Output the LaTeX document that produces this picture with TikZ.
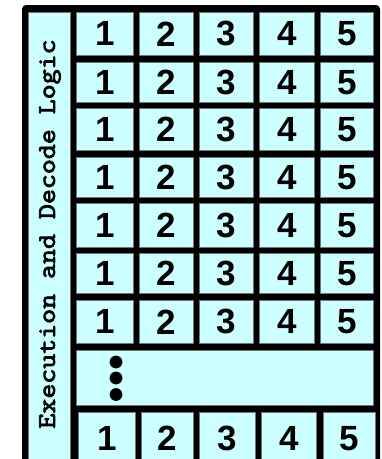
\documentclass[tikz,border=0pt]{standalone}
\usepackage{fontspec}
\setmainfont{Liberation Sans}
\newfontfamily\labelfont{Latin Modern Mono}[FakeBold=3]
\definecolor{cellcyan}{HTML}{CCFFFF}
\begin{document}
\begin{tikzpicture}[x=1pt,y=-1pt,
  cellbox/.style={fill=cellcyan, draw=black!55, line width=0.6pt, inner sep=0pt, anchor=north west},
  digit/.style={font=\fontsize{35}{35}\selectfont\bfseries},
  dotmark/.style={circle, fill=black, inner sep=0pt, minimum size=12.8pt}]
\useasboundingbox (0,0) rectangle (382,459);
\clip (0,0) rectangle (382,459);
% outer black frame
\fill[black, rounded corners=4pt] (22,5) rectangle (380,478);
% label column
\node[cellbox, minimum width=42pt, minimum height=470pt] (labelcol) at (28,12) {};
\node[rotate=90, inner sep=0pt, font=\labelfont\fontsize{25.5}{26}\selectfont] (labeltext) at (50,234) {\scalebox{1.14}[1]{Execution and Decode Logic}};
% numbered rows
\foreach \r/\top/\h in {1/12/43, 2/62/40, 3/108/42, 4/157/40, 5/203/44, 6/253/40, 7/300/43} {
  \foreach \c/\lft/\w in {1/76/57, 2/139/54, 3/199/54, 4/259/55, 5/320/53} {
    \node[cellbox, digit, minimum width=\w pt, minimum height=\h pt] (cell-\r-\c) at (\lft,\top) {\c};
  }
}
% dots row
\node[cellbox, minimum width=297pt, minimum height=55pt] (dotsrow) at (76,350) {};
\node[dotmark] (dot1) at (116,362) {};
\node[dotmark] (dot2) at (116,378) {};
\node[dotmark] (dot3) at (116,394.5) {};
% last row (cut by the lower edge)
\foreach \c/\lft/\w in {1/78/57, 2/141/52, 3/199/56, 4/261/55, 5/323/52} {
  \node[cellbox, minimum width=\w pt, minimum height=58pt] (cell-9-\c) at (\lft,412) {};
  \node[digit, inner sep=0pt] (digit-9-\c) at ([yshift=3pt]cell-9-\c.center) {\c};
}
\end{tikzpicture}
\end{document}
